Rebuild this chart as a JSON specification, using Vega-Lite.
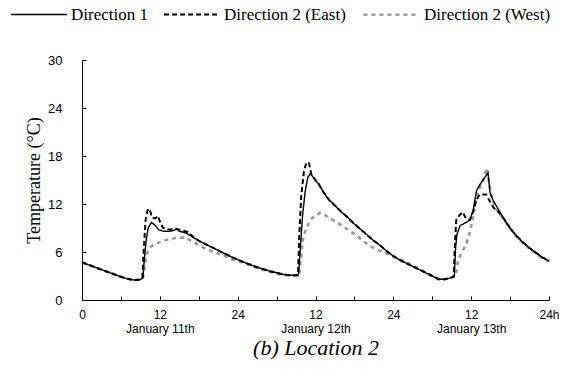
{
  "$schema": "https://vega.github.io/schema/vega-lite/v6.json",
  "autosize": "none",
  "width": 467,
  "height": 240,
  "padding": {"left": 82, "top": 60, "right": 15, "bottom": 69},
  "background": "white",
  "config": {
    "view": {"stroke": null},
    "axis": {"grid": false, "domainColor": "black", "tickColor": "black", "labelColor": "black", "titleColor": "black", "domainWidth": 1, "tickWidth": 1}
  },
  "data": {"values": [
    {"s":"Direction 2 (West)","t":0,"T":4.7},{"s":"Direction 2 (West)","t":1,"T":4.4},{"s":"Direction 2 (West)","t":2,"T":4.1},{"s":"Direction 2 (West)","t":3,"T":3.8},{"s":"Direction 2 (West)","t":4,"T":3.5},{"s":"Direction 2 (West)","t":5,"T":3.2},{"s":"Direction 2 (West)","t":6,"T":2.9},{"s":"Direction 2 (West)","t":7,"T":2.65},{"s":"Direction 2 (West)","t":8,"T":2.5},{"s":"Direction 2 (West)","t":9,"T":2.55},{"s":"Direction 2 (West)","t":9.4,"T":2.8},
    {"s":"Direction 2 (West)","t":9.7,"T":4.5},{"s":"Direction 2 (West)","t":10.1,"T":6.0},{"s":"Direction 2 (West)","t":10.5,"T":6.6},{"s":"Direction 2 (West)","t":11.5,"T":7.1},{"s":"Direction 2 (West)","t":13,"T":7.5},{"s":"Direction 2 (West)","t":14.6,"T":7.8},{"s":"Direction 2 (West)","t":16,"T":7.8},{"s":"Direction 2 (West)","t":17,"T":7.3},{"s":"Direction 2 (West)","t":18,"T":6.9},{"s":"Direction 2 (West)","t":19,"T":6.4},{"s":"Direction 2 (West)","t":20,"T":6.1},{"s":"Direction 2 (West)","t":21,"T":5.8},{"s":"Direction 2 (West)","t":22,"T":5.5},{"s":"Direction 2 (West)","t":23,"T":5.1},{"s":"Direction 2 (West)","t":24,"T":4.9},{"s":"Direction 2 (West)","t":25,"T":4.6},{"s":"Direction 2 (West)","t":26,"T":4.3},{"s":"Direction 2 (West)","t":27,"T":4.0},{"s":"Direction 2 (West)","t":28,"T":3.75},{"s":"Direction 2 (West)","t":29,"T":3.5},{"s":"Direction 2 (West)","t":30,"T":3.3},{"s":"Direction 2 (West)","t":31,"T":3.15},{"s":"Direction 2 (West)","t":32,"T":3.05},{"s":"Direction 2 (West)","t":33,"T":3.05},{"s":"Direction 2 (West)","t":33.5,"T":3.2},
    {"s":"Direction 2 (West)","t":33.8,"T":5.5},{"s":"Direction 2 (West)","t":34.1,"T":7.9},{"s":"Direction 2 (West)","t":34.7,"T":9.2},{"s":"Direction 2 (West)","t":35.4,"T":10.2},{"s":"Direction 2 (West)","t":36.7,"T":10.9},{"s":"Direction 2 (West)","t":37.5,"T":10.6},{"s":"Direction 2 (West)","t":38.2,"T":10.2},{"s":"Direction 2 (West)","t":39.3,"T":9.7},{"s":"Direction 2 (West)","t":40.3,"T":9.2},{"s":"Direction 2 (West)","t":41.3,"T":8.6},{"s":"Direction 2 (West)","t":42.3,"T":8.1},{"s":"Direction 2 (West)","t":43.3,"T":7.4},{"s":"Direction 2 (West)","t":44.4,"T":6.75},{"s":"Direction 2 (West)","t":45.5,"T":6.3},{"s":"Direction 2 (West)","t":47,"T":5.8},{"s":"Direction 2 (West)","t":48,"T":5.4},{"s":"Direction 2 (West)","t":49.5,"T":4.9},{"s":"Direction 2 (West)","t":51,"T":4.3},{"s":"Direction 2 (West)","t":52,"T":3.9},{"s":"Direction 2 (West)","t":53,"T":3.45},{"s":"Direction 2 (West)","t":54,"T":3.0},{"s":"Direction 2 (West)","t":55,"T":2.6},{"s":"Direction 2 (West)","t":56,"T":2.6},{"s":"Direction 2 (West)","t":57,"T":2.8},{"s":"Direction 2 (West)","t":57.6,"T":3.0},
    {"s":"Direction 2 (West)","t":58,"T":5.0},{"s":"Direction 2 (West)","t":58.6,"T":6.0},{"s":"Direction 2 (West)","t":59.3,"T":7.1},{"s":"Direction 2 (West)","t":59.8,"T":8.5},{"s":"Direction 2 (West)","t":60.3,"T":10.4},{"s":"Direction 2 (West)","t":60.8,"T":12.9},{"s":"Direction 2 (West)","t":61.3,"T":14.0},{"s":"Direction 2 (West)","t":61.8,"T":14.8},{"s":"Direction 2 (West)","t":62.4,"T":16.5},{"s":"Direction 2 (West)","t":62.7,"T":15.0},{"s":"Direction 2 (West)","t":63.1,"T":13.1},{"s":"Direction 2 (West)","t":63.9,"T":11.3},{"s":"Direction 2 (West)","t":65,"T":10.1},{"s":"Direction 2 (West)","t":66,"T":8.9},{"s":"Direction 2 (West)","t":67,"T":7.9},{"s":"Direction 2 (West)","t":68,"T":7.1},{"s":"Direction 2 (West)","t":69,"T":6.4},{"s":"Direction 2 (West)","t":70,"T":5.8},{"s":"Direction 2 (West)","t":71,"T":5.2},{"s":"Direction 2 (West)","t":72,"T":4.8},

    {"s":"Direction 1","t":0,"T":4.7},{"s":"Direction 1","t":1,"T":4.4},{"s":"Direction 1","t":2,"T":4.1},{"s":"Direction 1","t":3,"T":3.8},{"s":"Direction 1","t":4,"T":3.5},{"s":"Direction 1","t":5,"T":3.2},{"s":"Direction 1","t":6,"T":2.9},{"s":"Direction 1","t":7,"T":2.65},{"s":"Direction 1","t":8,"T":2.5},{"s":"Direction 1","t":9,"T":2.55},{"s":"Direction 1","t":9.4,"T":2.8},
    {"s":"Direction 1","t":9.6,"T":5.0},{"s":"Direction 1","t":9.9,"T":7.5},{"s":"Direction 1","t":10.2,"T":9.0},{"s":"Direction 1","t":10.7,"T":9.7},{"s":"Direction 1","t":11.2,"T":9.4},{"s":"Direction 1","t":11.8,"T":8.8},{"s":"Direction 1","t":12.5,"T":8.6},{"s":"Direction 1","t":13.5,"T":8.6},{"s":"Direction 1","t":14.2,"T":8.7},{"s":"Direction 1","t":14.6,"T":8.9},{"s":"Direction 1","t":15.0,"T":8.6},{"s":"Direction 1","t":16,"T":8.4},{"s":"Direction 1","t":17,"T":7.9},{"s":"Direction 1","t":18,"T":7.4},{"s":"Direction 1","t":19,"T":7.0},{"s":"Direction 1","t":20,"T":6.6},{"s":"Direction 1","t":21,"T":6.2},{"s":"Direction 1","t":22,"T":5.8},{"s":"Direction 1","t":23,"T":5.4},{"s":"Direction 1","t":24,"T":5.05},{"s":"Direction 1","t":25,"T":4.7},{"s":"Direction 1","t":26,"T":4.4},{"s":"Direction 1","t":27,"T":4.1},{"s":"Direction 1","t":28,"T":3.85},{"s":"Direction 1","t":29,"T":3.6},{"s":"Direction 1","t":30,"T":3.4},{"s":"Direction 1","t":31,"T":3.2},{"s":"Direction 1","t":32,"T":3.1},{"s":"Direction 1","t":33,"T":3.1},{"s":"Direction 1","t":33.4,"T":3.3},
    {"s":"Direction 1","t":33.7,"T":7.0},{"s":"Direction 1","t":34.0,"T":10.5},{"s":"Direction 1","t":34.4,"T":13.5},{"s":"Direction 1","t":34.8,"T":15.3},{"s":"Direction 1","t":35.2,"T":15.8},{"s":"Direction 1","t":35.6,"T":15.4},{"s":"Direction 1","t":36.0,"T":14.9},{"s":"Direction 1","t":36.5,"T":14.5},{"s":"Direction 1","t":37.2,"T":13.5},{"s":"Direction 1","t":38,"T":12.6},{"s":"Direction 1","t":39,"T":11.8},{"s":"Direction 1","t":40,"T":11.0},{"s":"Direction 1","t":41,"T":10.3},{"s":"Direction 1","t":42,"T":9.5},{"s":"Direction 1","t":43,"T":8.8},{"s":"Direction 1","t":44,"T":8.1},{"s":"Direction 1","t":45,"T":7.4},{"s":"Direction 1","t":46,"T":6.8},{"s":"Direction 1","t":47,"T":6.1},{"s":"Direction 1","t":48,"T":5.5},{"s":"Direction 1","t":49,"T":5.0},{"s":"Direction 1","t":50,"T":4.6},{"s":"Direction 1","t":51,"T":4.2},{"s":"Direction 1","t":52,"T":3.8},{"s":"Direction 1","t":53,"T":3.4},{"s":"Direction 1","t":54,"T":3.0},{"s":"Direction 1","t":55,"T":2.6},{"s":"Direction 1","t":56,"T":2.6},{"s":"Direction 1","t":57,"T":2.8},{"s":"Direction 1","t":57.4,"T":3.0},
    {"s":"Direction 1","t":57.6,"T":6.5},{"s":"Direction 1","t":57.8,"T":8.2},{"s":"Direction 1","t":58.3,"T":9.3},{"s":"Direction 1","t":59,"T":9.6},{"s":"Direction 1","t":59.8,"T":10.0},{"s":"Direction 1","t":60.3,"T":11.2},{"s":"Direction 1","t":60.8,"T":13.6},{"s":"Direction 1","t":61.4,"T":14.5},{"s":"Direction 1","t":62,"T":15.2},{"s":"Direction 1","t":62.6,"T":15.9},{"s":"Direction 1","t":62.9,"T":13.4},{"s":"Direction 1","t":63.4,"T":12.4},{"s":"Direction 1","t":64,"T":11.6},{"s":"Direction 1","t":65,"T":10.2},{"s":"Direction 1","t":66,"T":9.0},{"s":"Direction 1","t":67,"T":8.0},{"s":"Direction 1","t":68,"T":7.2},{"s":"Direction 1","t":69,"T":6.5},{"s":"Direction 1","t":70,"T":5.9},{"s":"Direction 1","t":71,"T":5.3},{"s":"Direction 1","t":72,"T":4.9},

    {"s":"Direction 2 (East)","t":0,"T":4.7},{"s":"Direction 2 (East)","t":1,"T":4.4},{"s":"Direction 2 (East)","t":2,"T":4.1},{"s":"Direction 2 (East)","t":3,"T":3.8},{"s":"Direction 2 (East)","t":4,"T":3.5},{"s":"Direction 2 (East)","t":5,"T":3.2},{"s":"Direction 2 (East)","t":6,"T":2.9},{"s":"Direction 2 (East)","t":7,"T":2.65},{"s":"Direction 2 (East)","t":8,"T":2.5},{"s":"Direction 2 (East)","t":9,"T":2.55},{"s":"Direction 2 (East)","t":9.3,"T":2.8},
    {"s":"Direction 2 (East)","t":9.5,"T":6.0},{"s":"Direction 2 (East)","t":9.8,"T":10.0},{"s":"Direction 2 (East)","t":10.1,"T":11.2},{"s":"Direction 2 (East)","t":10.4,"T":11.4},{"s":"Direction 2 (East)","t":10.8,"T":10.3},{"s":"Direction 2 (East)","t":11.3,"T":10.2},{"s":"Direction 2 (East)","t":11.7,"T":10.5},{"s":"Direction 2 (East)","t":12.1,"T":9.6},{"s":"Direction 2 (East)","t":12.5,"T":9.0},{"s":"Direction 2 (East)","t":13.5,"T":8.8},{"s":"Direction 2 (East)","t":14.5,"T":8.9},{"s":"Direction 2 (East)","t":15.5,"T":8.7},{"s":"Direction 2 (East)","t":16.3,"T":8.5},{"s":"Direction 2 (East)","t":17,"T":8.0},{"s":"Direction 2 (East)","t":18,"T":7.4},{"s":"Direction 2 (East)","t":19,"T":7.0},{"s":"Direction 2 (East)","t":20,"T":6.6},{"s":"Direction 2 (East)","t":21,"T":6.2},{"s":"Direction 2 (East)","t":22,"T":5.8},{"s":"Direction 2 (East)","t":23,"T":5.4},{"s":"Direction 2 (East)","t":24,"T":5.05},{"s":"Direction 2 (East)","t":25,"T":4.7},{"s":"Direction 2 (East)","t":26,"T":4.4},{"s":"Direction 2 (East)","t":27,"T":4.1},{"s":"Direction 2 (East)","t":28,"T":3.85},{"s":"Direction 2 (East)","t":29,"T":3.6},{"s":"Direction 2 (East)","t":30,"T":3.4},{"s":"Direction 2 (East)","t":31,"T":3.2},{"s":"Direction 2 (East)","t":32,"T":3.1},{"s":"Direction 2 (East)","t":33.3,"T":3.1},
    {"s":"Direction 2 (East)","t":33.5,"T":8.0},{"s":"Direction 2 (East)","t":33.8,"T":13.0},{"s":"Direction 2 (East)","t":34.2,"T":16.0},{"s":"Direction 2 (East)","t":34.6,"T":17.2},{"s":"Direction 2 (East)","t":35.0,"T":17.1},{"s":"Direction 2 (East)","t":35.4,"T":15.6},{"s":"Direction 2 (East)","t":36.0,"T":15.0},{"s":"Direction 2 (East)","t":36.5,"T":14.5},{"s":"Direction 2 (East)","t":37.2,"T":13.5},{"s":"Direction 2 (East)","t":38,"T":12.6},{"s":"Direction 2 (East)","t":39,"T":11.8},{"s":"Direction 2 (East)","t":40,"T":11.0},{"s":"Direction 2 (East)","t":41,"T":10.3},{"s":"Direction 2 (East)","t":42,"T":9.5},{"s":"Direction 2 (East)","t":43,"T":8.8},{"s":"Direction 2 (East)","t":44,"T":8.1},{"s":"Direction 2 (East)","t":45,"T":7.4},{"s":"Direction 2 (East)","t":46,"T":6.8},{"s":"Direction 2 (East)","t":47,"T":6.1},{"s":"Direction 2 (East)","t":48,"T":5.5},{"s":"Direction 2 (East)","t":49,"T":5.0},{"s":"Direction 2 (East)","t":50,"T":4.6},{"s":"Direction 2 (East)","t":51,"T":4.2},{"s":"Direction 2 (East)","t":52,"T":3.8},{"s":"Direction 2 (East)","t":53,"T":3.4},{"s":"Direction 2 (East)","t":54,"T":3.0},{"s":"Direction 2 (East)","t":55,"T":2.6},{"s":"Direction 2 (East)","t":56,"T":2.6},{"s":"Direction 2 (East)","t":57.3,"T":2.9},
    {"s":"Direction 2 (East)","t":57.5,"T":7.0},{"s":"Direction 2 (East)","t":57.7,"T":10.0},{"s":"Direction 2 (East)","t":58.2,"T":10.6},{"s":"Direction 2 (East)","t":58.7,"T":11.0},{"s":"Direction 2 (East)","t":59.2,"T":10.2},{"s":"Direction 2 (East)","t":59.8,"T":10.0},{"s":"Direction 2 (East)","t":60.3,"T":11.0},{"s":"Direction 2 (East)","t":60.8,"T":12.5},{"s":"Direction 2 (East)","t":61.3,"T":13.2},{"s":"Direction 2 (East)","t":62.3,"T":13.2},{"s":"Direction 2 (East)","t":62.9,"T":12.3},{"s":"Direction 2 (East)","t":63.5,"T":11.5},{"s":"Direction 2 (East)","t":64,"T":11.2},{"s":"Direction 2 (East)","t":65,"T":10.2},{"s":"Direction 2 (East)","t":66,"T":9.0},{"s":"Direction 2 (East)","t":67,"T":8.0},{"s":"Direction 2 (East)","t":68,"T":7.2},{"s":"Direction 2 (East)","t":69,"T":6.5},{"s":"Direction 2 (East)","t":70,"T":5.9},{"s":"Direction 2 (East)","t":71,"T":5.3},{"s":"Direction 2 (East)","t":72,"T":4.9}
  ]},
  "layer": [
    {"transform": [{"filter": "datum.s == 'Direction 2 (West)'"}], "mark": {"type": "line"}, "encoding": {}},
    {"transform": [{"filter": "datum.s == 'Direction 1'"}], "mark": {"type": "line"}, "encoding": {}},
    {"transform": [{"filter": "datum.s == 'Direction 2 (East)'"}], "mark": {"type": "line"}, "encoding": {}}
  ],
  "encoding": {
    "x": {
      "field": "t", "type": "quantitative",
      "scale": {"domain": [0, 72], "nice": false},
      "axis": {
        "values": [0,6,12,18,24,30,36,42,48,54,60,66,72],
        "labelExpr": "datum.value == 0 ? '0' : datum.value == 72 ? '24h' : datum.value % 24 == 0 ? '24' : datum.value == 12 ? ['12', 'January 11th'] : datum.value == 36 ? ['12', 'January 12th'] : datum.value == 60 ? ['12', 'January 13th'] : ''",
        "tickSize": -4, "labelPadding": 13, "labelFlush": false, "labelOverlap": false, "labelBound": false,
        "labelFont": "Liberation Sans", "labelFontSize": 12, "labelLineHeight": 14,
        "title": "(b) Location 2", "titleFont": "Liberation Serif", "titleFontStyle": "italic", "titleFontWeight": "normal", "titleFontSize": 22, "titlePadding": 3
      }
    },
    "y": {
      "field": "T", "type": "quantitative",
      "scale": {"domain": [0, 30], "nice": false},
      "axis": {
        "values": [0,6,12,18,24,30],
        "tickSize": -4, "labelPadding": 24,
        "labelFont": "Liberation Sans", "labelFontSize": 13,
        "title": "Temperature (°C)", "titleFont": "Liberation Serif", "titleFontWeight": "normal", "titleFontSize": 18, "titlePadding": 4
      }
    },
    "color": {
      "field": "s", "type": "nominal",
      "scale": {"domain": ["Direction 1", "Direction 2 (East)", "Direction 2 (West)"], "range": ["black", "black", "#999999"]},
      "legend": {
        "title": null, "orient": "none", "direction": "horizontal", "legendX": -72, "legendY": -75,
        "symbolType": "stroke", "symbolSize": 3136, "labelFont": "Liberation Serif", "labelFontSize": 17, "labelColor": "black", "columnPadding": 12, "labelOffset": 3, "padding": 0
      }
    },
    "strokeDash": {
      "field": "s", "type": "nominal",
      "scale": {"domain": ["Direction 1", "Direction 2 (East)", "Direction 2 (West)"], "range": [[1, 0], [5, 3], [4, 4]]},
      "legend": null
    },
    "strokeWidth": {
      "field": "s", "type": "nominal",
      "scale": {"domain": ["Direction 1", "Direction 2 (East)", "Direction 2 (West)"], "range": [1.4, 2.6, 1.5]},
      "legend": null
    }
  }
}
